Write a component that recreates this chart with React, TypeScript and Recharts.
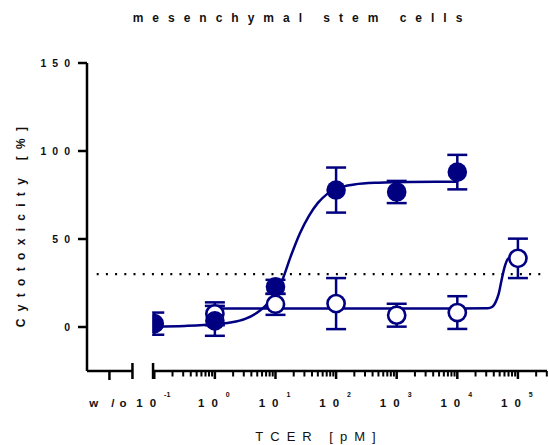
import {
  ComposedChart,
  Line,
  Scatter,
  ErrorBar,
  XAxis,
  YAxis,
  ReferenceLine,
  ReferenceArea,
} from "recharts";

// ─── Cytotoxicity vs TCER dose (x = log10 of concentration in pM) ──────────

const NAVY = "#000080";
const FONT = "Arial, 'Liberation Sans', sans-serif";

// filled circles
const solidLog = [-1, 0, 1, 2, 3, 4];
const solidMean = [1.9, 3.5, 22.8, 77.8, 76.7, 88];
const solidErr = [6.3, 8.5, 4, 12.8, 6.3, 9.8];

// open circles
const hollowLog = [0, 1, 2, 3, 4, 5];
const hollowMean = [7.5, 12.9, 13.3, 6.7, 8.2, 39];
const hollowErr = [6.5, 6, 14.5, 6.5, 9.3, 11.2];

// fitted curves
const solidCurveLog = [-1, -0.5, 0, 0.25, 0.5, 0.75, 0.95, 1.1, 1.25, 1.4, 1.55, 1.7, 1.85, 2.0, 2.3, 2.7, 3.2, 4.0];
const solidCurveVal = [0.3, 0.6, 1.5, 2.5, 4.6, 9.5, 16.5, 25.6, 40, 53, 63, 70.5, 75.5, 78.5, 81, 82, 82.4, 82.5];
const hollowCurveLog = [0, 1, 2, 3, 4, 4.5, 4.58, 4.63, 4.68, 4.73, 4.78, 4.83, 4.9, 5.0];
const hollowCurveVal = [10.5, 10.5, 10.5, 10.5, 10.5, 10.6, 11.5, 14, 18.5, 26.6, 34, 38.5, 40, 40.5];

// axes
const X_MIN = -2.11;
const X_MAX = 5.48;
const Y_MIN = -25;
const Y_MAX = 150;
const WO_POS = -1.74; // "w/o" control slot
const BREAK_LEFT = -1.36;
const BREAK_RIGHT = -1.02;
const decades = [-1, 0, 1, 2, 3, 4, 5];
const decadeExp = ["-1", "0", "1", "2", "3", "4", "5"];
const minorMult = [2, 3, 4, 5, 6, 7, 8, 9];
const yTicks = [0, 50, 100, 150];
const THRESHOLD = 30;

const MARGIN = { top: 63, right: 2, bottom: 34, left: 0 };
const X_AXIS_H = 40;
const PLOT_H = 445 - MARGIN.top - MARGIN.bottom - X_AXIS_H;
const Y_PER_PX = (Y_MAX - Y_MIN) / PLOT_H; // tick lengths below the axis, in y units

const solidPts = solidLog.map((x, i) => ({ x, y: solidMean[i], e: solidErr[i] }));
const hollowPts = hollowLog.map((x, i) => ({ x, y: hollowMean[i], e: hollowErr[i] }));
const solidCurve = solidCurveLog.map((x, i) => ({ x, y: solidCurveVal[i] }));
const hollowCurve = hollowCurveLog.map((x, i) => ({ x, y: hollowCurveVal[i] }));

const minorTicks = decades.flatMap((d) =>
  minorMult.map((m) => d + Math.log10(m)).filter((v) => v < X_MAX)
);
const xLabelTicks = [WO_POS, BREAK_LEFT, BREAK_RIGHT, ...decades];

// tick marks hung under the x axis
const tickMarks = [
  ...decades.map((v) => ({ v, len: 8, w: 2.5 })),
  { v: WO_POS, len: 9, w: 2.5 },
  ...minorTicks.map((v) => ({ v, len: 5.5, w: 2 })),
];

function XTick(props: any) {
  const { x, y, payload } = props;
  const v = payload.value;
  const di = decades.indexOf(v);
  if (v === BREAK_LEFT || v === BREAK_RIGHT) {
    return <rect x={x - 1.25} y={y - 8} width={2.5} height={16} fill="#000" />;
  }
  if (v === WO_POS) {
    return (
      <text x={x + 1} y={y + 36} textAnchor="middle" fontFamily={FONT} fontSize={11.5}
        fontWeight="bold" letterSpacing={5} fill="#111">
        w /o
      </text>
    );
  }
  return (
    <text x={x - 1} y={y + 36} textAnchor="middle" fontFamily={FONT} fontWeight="bold" fill="#111">
      <tspan fontSize={11.5} letterSpacing={7}>10</tspan>
      <tspan fontSize={7} dy={-10} dx={1}>{decadeExp[di]}</tspan>
    </text>
  );
}

function YTick(props: any) {
  const { x, y, payload } = props;
  return (
    <text x={x + 6} y={y} dy="0.36em" textAnchor="end" fontFamily={FONT} fontSize={10.5}
      fontWeight="bold" letterSpacing={6} fill="#111">
      {payload.value}
    </text>
  );
}

function SolidDot(props: any) {
  const { cx, cy } = props;
  return <circle cx={cx} cy={cy} r={9.8} fill={NAVY} />;
}

function HollowDot(props: any) {
  const { cx, cy } = props;
  return <circle cx={cx} cy={cy} r={8.6} fill="#fff" stroke={NAVY} strokeWidth={2.6} />;
}

export default function App() {
  return (
    <div style={{ position: "absolute", left: 0, top: 0, width: 549, height: 445, background: "#fff" }}>
      <ComposedChart width={549} height={445} margin={MARGIN}>
        <XAxis
          type="number"
          dataKey="x"
          domain={[X_MIN, X_MAX]}
          ticks={xLabelTicks}
          interval={0}
          axisLine={false}
          tickLine={false}
          tickSize={0}
          tickMargin={0}
          height={X_AXIS_H}
          tick={<XTick />}
        />
        <YAxis
          type="number"
          domain={[Y_MIN, Y_MAX]}
          ticks={yTicks}
          interval={0}
          width={87}
          axisLine={{ stroke: "#000", strokeWidth: 2.5 }}
          tickLine={{ stroke: "#000", strokeWidth: 2.5 }}
          tickSize={9}
          tickMargin={8}
          tick={<YTick />}
        />
        <ReferenceLine
          segment={[{ x: X_MIN, y: Y_MIN }, { x: BREAK_LEFT, y: Y_MIN }]}
          stroke="#000"
          strokeWidth={2.5}
          ifOverflow="visible"
          zIndex={2100}
        />
        <ReferenceLine
          segment={[{ x: BREAK_RIGHT, y: Y_MIN }, { x: X_MAX, y: Y_MIN }]}
          stroke="#000"
          strokeWidth={2.5}
          ifOverflow="visible"
          zIndex={2100}
        />
        {tickMarks.map((t, i) => (
          <ReferenceLine
            key={`tk-${i}`}
            segment={[{ x: t.v, y: Y_MIN }, { x: t.v, y: Y_MIN - t.len * Y_PER_PX }]}
            stroke="#000"
            strokeWidth={t.w}
            ifOverflow="visible"
            zIndex={2100}
          />
        ))}
        <ReferenceLine
          segment={[{ x: -1.95, y: THRESHOLD }, { x: 5.42, y: THRESHOLD }]}
          stroke="#000"
          strokeWidth={2.2}
          strokeDasharray="2 7.2"
          ifOverflow="visible"
        />
        <Line data={hollowCurve} dataKey="y" type="monotone" stroke={NAVY} strokeWidth={2.5}
          dot={false} activeDot={false} isAnimationActive={false} />
        <Line data={solidCurve} dataKey="y" type="monotone" stroke={NAVY} strokeWidth={2.5}
          dot={false} activeDot={false} isAnimationActive={false} />
        <Scatter data={hollowPts} dataKey="y" shape={<HollowDot />} isAnimationActive={false}>
          <ErrorBar dataKey="e" direction="y" width={10} stroke={NAVY} strokeWidth={2.5} />
        </Scatter>
        <Scatter data={solidPts} dataKey="y" shape={<SolidDot />} isAnimationActive={false}>
          <ErrorBar dataKey="e" direction="y" width={10} stroke={NAVY} strokeWidth={2.5} />
        </Scatter>
        <ReferenceArea x1={BREAK_LEFT + 0.05} x2={-1.035} y1={-12} y2={14} fill="#fff"
          fillOpacity={1} stroke="none" ifOverflow="visible" zIndex={2000} />
      </ComposedChart>
      <svg width={549} height={445} style={{ position: "absolute", left: 0, top: 0, pointerEvents: "none" }}>
        <text x={302} y={22} textAnchor="middle" fontFamily={FONT} fontSize={12} fontWeight="bold"
          letterSpacing={9} fill="#111">
          mesenchymal stem cells
        </text>
        <text transform="translate(25,227) rotate(-90)" x={3.6} y={0} textAnchor="middle" fontFamily={FONT}
          fontSize={12} fontWeight="bold" letterSpacing={7.3} fill="#111">
          Cytotoxicity [%]
        </text>
        <text x={319} y={440.5} textAnchor="middle" fontFamily={FONT} fontSize={13}
          letterSpacing={7} fill="#111">
          TCER [pM]
        </text>
      </svg>
    </div>
  );
}
